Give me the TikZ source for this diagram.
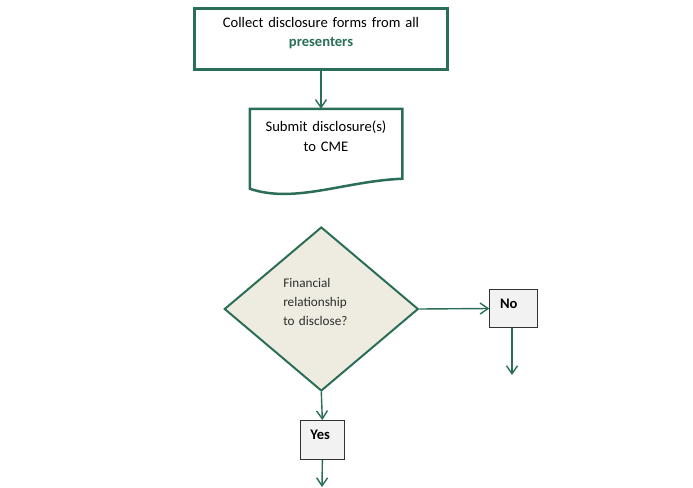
\documentclass[tikz,border=0pt]{standalone}
\usepackage{fontspec}
\setmainfont{Carlito}
\usetikzlibrary{shapes.geometric,arrows.meta}
\definecolor{dgreen}{RGB}{42,111,85}
\definecolor{dfill}{RGB}{238,236,225}
\definecolor{bfill}{RGB}{242,242,242}
\definecolor{dtext}{RGB}{45,45,45}
\tikzset{
  conn/.style={draw=dgreen, line width=1.4pt, -{Straight Barb[length=8pt,width=11pt,line width=1.4pt]}},
  topbox/.style={draw=dgreen, line width=3pt, minimum width=253pt, minimum height=61pt, inner sep=0pt,
    text width=240pt, align=center, font=\fontsize{14.6}{19.6}\selectfont},
  docbox/.style={draw=none, line width=2.5pt, minimum width=150pt, minimum height=81pt, inner sep=0pt,
    text width=140pt, align=center, font=\fontsize{14.6}{20}\selectfont},
  docline/.style={draw=dgreen, line width=2.5pt, line join=miter},
  decision/.style={diamond, draw=dgreen, fill=dfill, line width=2pt, minimum width=194pt, minimum height=164pt,
    inner sep=0pt, text width=76pt, align=left, text=dtext, font=\fontsize{13.2}{19}\selectfont},
  answer/.style={draw=black!80, fill=bfill, line width=1pt, inner sep=0pt, align=left,
    font=\bfseries\fontsize{14.6}{18}\selectfont},
}
\begin{document}
\begin{tikzpicture}[x=1pt,y=-1pt]
\useasboundingbox (0,0) rectangle (693,487);
\node[topbox, text height=10pt, text depth=33.4pt] (collect) at (321,39)
  {Collect disclosure forms from all\\ \textcolor{dgreen}{\bfseries presenters}};
\node[docbox, text height=10pt, text depth=47.6pt] (submit) at (326,150.5)
  {Submit disclosure(s)\\ to CME};
\draw[docline] (submit.north west) -- (submit.north east) -- ([yshift=-70pt]submit.north east)
  .. controls (345,181) and (295,204) .. ([yshift=-80pt]submit.north west) -- cycle;
\node[decision, text height=10pt, text depth=52.6pt] (fin) at (321.3,309)
  {Financial\\ relationship\\ to disclose?};
\node[answer, minimum width=47.4pt, minimum height=38pt, text width=27pt, text height=8pt, text depth=8pt] (no) at (513.5,308.5) {No};
\node[answer, minimum width=43.7pt, minimum height=39pt, text width=24pt, text height=8pt, text depth=9.4pt] (yes) at (322.35,440) {Yes};
\coordinate (noend) at (512,375);
\coordinate (yesend) at (322,487);
\draw[conn] (collect.south) -- (collect.south |- submit.north);
\draw[conn] (fin.east) -- (no.west);
\draw[conn] (no.south -| noend) -- (noend);
\draw[conn] (fin.south) -- (yes.north);
\draw[conn] (yes.south) -- (yesend);
\end{tikzpicture}
\end{document}
